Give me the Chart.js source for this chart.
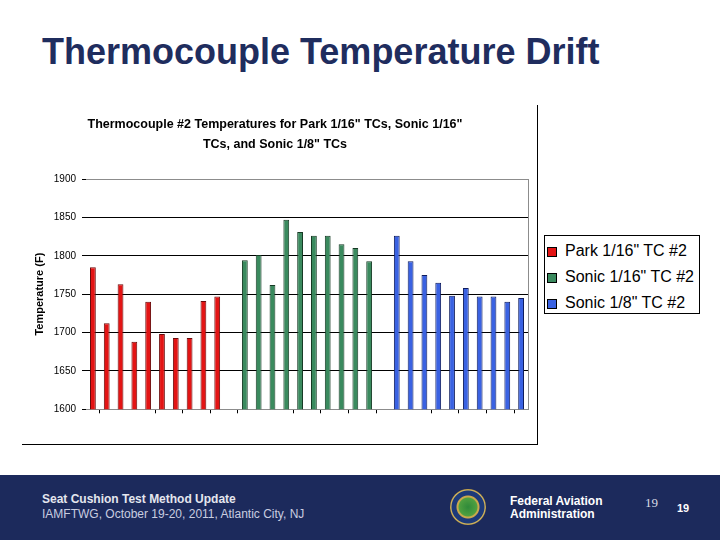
<!DOCTYPE html>
<html>
<head>
<meta charset="utf-8">
<title>Thermocouple Temperature Drift</title>
<script src="https://cdn.jsdelivr.net/npm/chart.js@4.4.1/dist/chart.umd.min.js"></script>
<style>
  body {
    margin: 0;
    width: 720px;
    height: 540px;
    position: relative;
    overflow: hidden;
    background: #fff;
    font-family: "Liberation Sans", Arial, sans-serif;
  }

  .slide-title {
    position: absolute;
    left: 42px;
    top: 34px;
    font-size: 36px;
    line-height: 36px;
    font-weight: bold;
    color: #1f2d5e;
    white-space: nowrap;
  }

  .frame {
    position: absolute;
    left: 22px;
    top: 105px;
    width: 516px;
    height: 340px;
    box-sizing: border-box;
    border-right: 1.5px solid #000;
    border-bottom: 1.5px solid #000;
  }

  .chart-box {
    position: absolute;
    left: 22px;
    top: 105px;
    width: 515px;
    height: 339px;
  }

  .legend {
    position: absolute;
    left: 544px;
    top: 235px;
    width: 156px;
    height: 79px;
    box-sizing: border-box;
    border: 1px solid #000;
    background: #fff;
  }

  .legend-item {
    position: absolute;
    left: 0;
    height: 26px;
    line-height: 26px;
    font-size: 16px;
    color: #000;
    white-space: nowrap;
  }

  .legend-swatch {
    position: absolute;
    left: 2px;
    top: 9px;
    width: 8px;
    height: 8px;
    border: 1px solid #000;
  }

  .legend-text {
    position: absolute;
    left: 20px;
  }

  .footer {
    position: absolute;
    left: 0;
    top: 475px;
    width: 720px;
    height: 65px;
    background: #1c2a5c;
  }

  .foot-text {
    position: absolute;
    white-space: nowrap;
    font-size: 12px;
    line-height: 14px;
  }

  .logo {
    position: absolute;
    left: 450px;
    top: 489px;
    width: 36px;
    height: 36px;
    border-radius: 50%;
    background: radial-gradient(circle at 50% 50%, #2f8a3a 0, #4fa040 9px, #c9a94c 10px, #c9a94c 11px, #1d3a7a 12px, #1d3a7a 16px, #d4b860 17px, #b09040 18px);
  }
</style>
</head>
<body>
  <div class="slide-title">Thermocouple Temperature Drift</div>

  <div class="frame"></div>
  <div class="chart-box">
    <canvas id="drift-chart"></canvas>
  </div>
  <div class="legend" id="legend"></div>

  <div class="footer"></div>
  <div class="foot-text" style="left:42px; top:492px; font-weight:bold; color:#e4e6ee;">Seat Cushion Test Method Update</div>
  <div class="foot-text" style="left:42px; top:507px; color:#c9cde0;">IAMFTWG, October 19-20, 2011, Atlantic City, NJ</div>
  <div class="logo"></div>
  <div class="foot-text" style="left:510px; top:495px; font-weight:bold; color:#fff; line-height:13px;">Federal Aviation<br>Administration</div>
  <div class="foot-text" style="left:645px; top:496px; font-family:'Liberation Serif', serif; font-size:13px; color:#d8dae4;">19</div>
  <div class="foot-text" style="left:677px; top:501px; font-weight:bold; font-size:11px; color:#fff;">19</div>

<script>
// Thermocouple #2 readings, ten runs per setup (deg F)
const parkTemps = [1785, 1712, 1763, 1688, 1740, 1698, 1693, 1693, 1741, 1747];
const sonic16Temps = [1794, 1801, 1762, 1847, 1831, 1826, 1826, 1815, 1810, 1793];
const sonic8Temps = [1826, 1793, 1775, 1765, 1748, 1758, 1747, 1747, 1740, 1745];

const seriesNames = ['Park 1/16" TC #2', 'Sonic 1/16" TC #2', 'Sonic 1/8" TC #2'];
const yTicks = [1600, 1650, 1700, 1750, 1800, 1850, 1900];

const seriesColors = ['#e31414', '#3a8a5e', '#3a62e2'];
const seriesEdges = ['#6a0a0a', '#163a24', '#0e1c5e'];

// the three runs sit side by side on one category axis, one empty slot between them
const runs = [parkTemps, sonic16Temps, sonic8Temps];
const slotCount = runs.reduce((n, r) => n + r.length, 0) + runs.length - 1;
const slotLabels = Array(slotCount).fill('');

function placeRun(runIndex) {
  const out = Array(slotCount).fill(null);
  let start = 0;
  for (let i = 0; i < runIndex; i++) start += runs[i].length + 1;
  runs[runIndex].forEach((v, i) => { out[start + i] = v; });
  return out;
}

// tick marks under the axis (some are missing in the original)
const hiddenTicks = [3, 13, 23];

const rightEdge = {
  id: 'rightEdge',
  afterDraw(chart) {
    const { ctx, chartArea } = chart;
    ctx.save();
    ctx.strokeStyle = '#8c8c8c';
    ctx.lineWidth = 1;
    ctx.beginPath();
    ctx.moveTo(chartArea.right + 0.5, chartArea.top);
    ctx.lineTo(chartArea.right + 0.5, chartArea.bottom);
    ctx.stroke();
    ctx.restore();
  }
};

Chart.defaults.font.family = '"Liberation Sans", Arial, sans-serif';
Chart.defaults.color = '#000';

const ctx = document.getElementById('drift-chart').getContext('2d');
const chart = new Chart(ctx, {
  type: 'bar',
  data: {
    labels: slotLabels,
    datasets: seriesNames.map((name, i) => ({
      label: name,
      data: placeRun(i),
      backgroundColor: seriesColors[i],
      borderColor: seriesEdges[i],
      borderWidth: 1,
      grouped: false,
      categoryPercentage: 1,
      barPercentage: 0.42
    }))
  },
  options: {
    responsive: true,
    maintainAspectRatio: false,
    animation: false,
    layout: {
      padding: { left: 0, right: 9, top: 0, bottom: 0 }
    },
    plugins: {
      legend: { display: false },
      tooltip: { enabled: false },
      title: {
        display: true,
        text: ['Thermocouple #2 Temperatures for Park 1/16" TCs, Sonic 1/16"', 'TCs, and Sonic 1/8" TCs'],
        color: '#000',
        font: { size: 12.5, weight: 'bold', lineHeight: 1.6 },
        padding: { top: 9.5, bottom: 24.5 }
      }
    },
    scales: {
      x: {
        offset: true,
        afterFit: (scale) => { scale.height = 34.7; },
        ticks: { display: false, autoSkip: false },
        border: { display: true, color: '#8c8c8c', width: 1 },
        grid: {
          offset: true,
          drawOnChartArea: false,
          drawTicks: true,
          tickLength: 4,
          tickWidth: 1,
          tickColor: (c) => {
            const k = c.index;
            if (k === undefined || k % 2 === 0 || hiddenTicks.includes(k)) return 'rgba(0,0,0,0)';
            return '#000';
          }
        }
      },
      y: {
        min: yTicks[0],
        max: yTicks[yTicks.length - 1],
        afterFit: (scale) => { scale.width = 64; },
        afterBuildTicks: (scale) => { scale.ticks = yTicks.map(v => ({ value: v })); },
        ticks: {
          color: '#000',
          font: { size: 10 },
          padding: 6,
          callback: (value) => String(value)
        },
        border: { display: false },
        grid: {
          color: (c) => {
            if (!c.tick) return 'rgba(0,0,0,0)';
            if (c.tick.value === 1900) return '#8c8c8c';
            if (c.tick.value === 1600) return 'rgba(0,0,0,0)';
            return '#000';
          },
          tickColor: '#000',
          tickLength: 4,
          lineWidth: 1
        },
        title: {
          display: true,
          text: 'Temperature (F)',
          color: '#000',
          font: { size: 11, weight: 'bold' },
          padding: { top: 11, bottom: 0 }
        }
      }
    }
  },
  plugins: [rightEdge]
});

// boxed legend to the right of the chart frame
const legend = document.getElementById('legend');
seriesNames.forEach((name, i) => {
  const item = document.createElement('div');
  item.className = 'legend-item';
  item.style.top = (1.5 + 26 * i) + 'px';
  item.innerHTML = `<span class="legend-swatch" style="background:${seriesColors[i]}"></span><span class="legend-text"></span>`;
  item.querySelector('.legend-text').textContent = name;
  legend.appendChild(item);
});
</script>
</body>
</html>
